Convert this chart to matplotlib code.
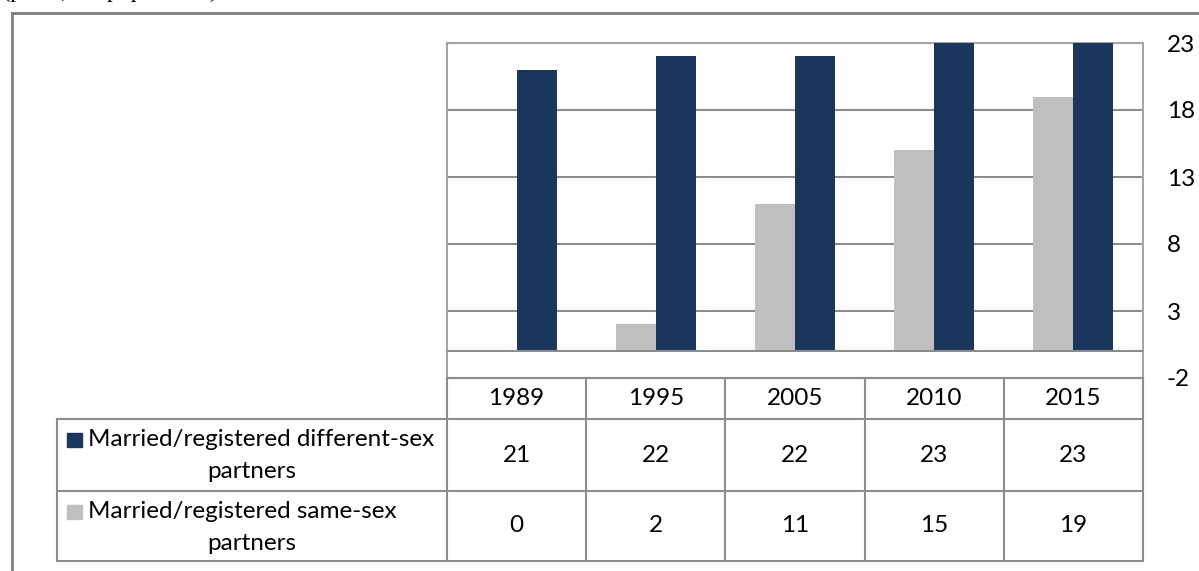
import matplotlib
matplotlib.use("Agg")
import matplotlib.pyplot as plt
from matplotlib.patches import Rectangle
from matplotlib.lines import Line2D

years = ["1989", "1995", "2005", "2010", "2015"]
different_sex = [21, 22, 22, 23, 23]
same_sex = [0, 2, 11, 15, 19]
series_labels = ["Married/registered different-sex\npartners",
                 "Married/registered same-sex\npartners"]
yticks = [-2, 3, 8, 13, 18, 23]

DARK = "#1B365D"
GRAY = "#BFBFBF"
LINE = "#8C8C8C"
FONT = "Lato"
FS = 17.5

W, H = 1199, 571
fig = plt.figure(figsize=(W / 100, H / 100), dpi=100)

def box(l, t, r, b):
    return [l / W, 1 - b / H, (r - l) / W, (b - t) / H]

# outer frame / caption
fig.add_artist(Line2D([12 / W, 1.0], [1 - 13 / H] * 2, color="#808080", lw=2))
fig.add_artist(Line2D([12 / W] * 2, [0, 1 - 13 / H], color="#808080", lw=2))
fig.text(4 / W, 1 + 9 / H, "(per 1,000 population)", family="Liberation Serif",
         style="italic", fontsize=17, va="center", ha="left")

# main plot
ax = fig.add_axes(box(447, 43, 1143, 378))
n = len(years)
x = list(range(n))
bw = 0.287
ax.bar([i - bw / 2 for i in x], same_sex, width=bw, color=GRAY, zorder=3)
ax.bar([i + bw / 2 for i in x], different_sex, width=bw, color=DARK, zorder=3)
ax.set_xlim(-0.5, n - 0.5)
ax.set_ylim(yticks[0], yticks[-1])
for yv in yticks[1:]:
    ax.axhline(yv, color=LINE, lw=1.5, zorder=1)
ax.axhline(0, color=LINE, lw=1.5, zorder=4)
ax.set_xticks([])
ax.yaxis.tick_right()
ax.set_yticks(yticks)
ax.set_yticklabels([str(v) for v in yticks], family=FONT, fontsize=FS)
ax.tick_params(axis="y", length=0, pad=17)
for s in ax.spines.values():
    s.set_color("#A6A6A6")
    s.set_linewidth(1.5)

# data table
tl, tr, tt, tb = 57, 1143, 378, 561
tax = fig.add_axes(box(tl, tt, tr, tb))
colw = (1143 - 447) / n
label_w = (447 - tl) / colw
xl = -0.5 - label_w
tax.set_xlim(xl, n - 0.5)
tax.set_ylim(tb - tt, 0)
tax.axis("off")
rows = [0, 41, 113, 183]
lc = "#8C8C8C"
lw = 1.5
# horizontal lines
tax.plot([-0.5, n - 0.5], [rows[0]] * 2, color=lc, lw=lw, clip_on=False)
for r in rows[1:]:
    tax.plot([xl, n - 0.5], [r] * 2, color=lc, lw=lw, clip_on=False)
# vertical lines
for i in range(n + 1):
    tax.plot([i - 0.5] * 2, [rows[0], rows[-1]], color=lc, lw=lw, clip_on=False)
tax.plot([xl] * 2, [rows[1], rows[-1]], color=lc, lw=lw, clip_on=False)

for i, yr in enumerate(years):
    tax.text(i, (rows[0] + rows[1]) / 2, yr, ha="center", va="center",
             family=FONT, fontsize=FS)
for ri, (vals, lab, col) in enumerate([(different_sex, series_labels[0], DARK),
                                       (same_sex, series_labels[1], GRAY)]):
    top, bot = rows[ri + 1], rows[ri + 2]
    mid = (top + bot) / 2
    for i, v in enumerate(vals):
        tax.text(i, mid, str(v), ha="center", va="center", family=FONT, fontsize=FS)
    line1, line2 = lab.split("\n")
    tax.add_patch(Rectangle((xl + 10 / colw, top + 14), 15 / colw, 14,
                            color=col, clip_on=False))
    tax.text(xl + 31 / colw, top + 21, line1, ha="left", va="center",
             family=FONT, fontsize=FS)
    tax.text(xl + label_w / 2, top + 53, line2, ha="center", va="center",
             family=FONT, fontsize=FS)

fig.savefig("out.png", dpi=100)
